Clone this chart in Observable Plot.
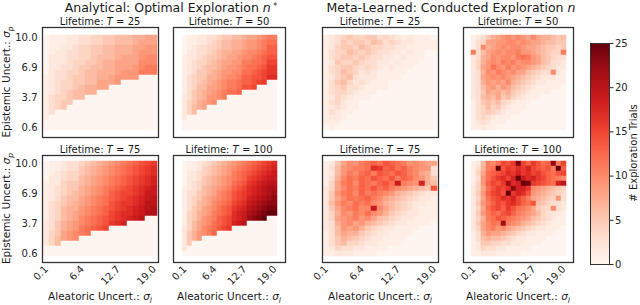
<!DOCTYPE html>
<html><head><meta charset="utf-8">
<script src="https://cdn.jsdelivr.net/npm/d3@7"></script>
<script src="https://cdn.jsdelivr.net/npm/@observablehq/plot@0.6"></script>
<style>
html,body{margin:0;padding:0;background:#fff;}
#root{position:relative;width:640px;height:305px;overflow:hidden;font-family:"DejaVu Sans",sans-serif;}
#root > svg{position:absolute;}
</style></head><body><div id="root"></div>
<script>
// Grid values (19 x 19): aleatoric sigma_l along x, epistemic sigma_p along y
const sigmaL = [0.1, 1.15, 2.2, 3.25, 4.3, 5.35, 6.4, 7.45, 8.5, 9.55, 10.6, 11.65, 12.7, 13.75, 14.8, 15.85, 16.9, 17.95, 19.0];
const sigmaP = [0.6, 1.122, 1.644, 2.167, 2.689, 3.211, 3.733, 4.256, 4.778, 5.3, 5.822, 6.344, 6.867, 7.389, 7.911, 8.433, 8.956, 9.478, 10.0];
const xTickValues = [0.1, 6.4, 12.7, 19.0];
const yTickValues = [0.6, 3.733, 6.867, 10.0];
const lifetimes = [25, 50, 75, 100];
const colorTicks = [0, 5, 10, 15, 20, 25];

// Cell values, one string per row (top row = sigma_p 10.0), one base-36 digit per cell (0..25)
const optimalT25 = [
"0111223344556667788",
"0111223344556667888",
"0112234455667778899",
"0122334455667778999",
"02223344566678889aa",
"0222344556778888aaa",
"0223345566778889abb",
"0233445667778999bbb",
"1233455667789999000",
"1234455668889000000",
"1234456778800000000",
"1234566770000000000",
"1344566000000000000",
"1345500000000000000",
"1345000000000000000",
"1300000000000000000",
"1000000000000000000",
"0000000000000000000",
"0000000000000000000"];
const optimalT50 = [
"0112233455667889abb",
"011223456677899abcc",
"012334456677899abdd",
"0223345677889aabcdd",
"122345567889aabcdee",
"123445678899bbccdff",
"12345667899abccdegg",
"1235567899aaccdefgg",
"134557789aabddeefhh",
"13456789abbcddefg00",
"13466889abbceef0000",
"1356789abccd0000000",
"2356799ab0000000000",
"245789a000000000000",
"2467800000000000000",
"2460000000000000000",
"2000000000000000000",
"0000000000000000000",
"0000000000000000000"];
const optimalT75 = [
"011233456789abcdefg",
"01123356789abcdefgh",
"01234456789abcdefgh",
"0223446789abcdefghi",
"1224556789abcdefghi",
"123455789abcdefghij",
"123456789abdeffghjj",
"12356689abcdefghijk",
"13456789abcefgghikk",
"1346779abcdefghijkl",
"1346789abcdfghhijll",
"134678abcdefghijk00",
"235789abcdeghi00000",
"235789bcdef00000000",
"24589abc00000000000",
"24689a0000000000000",
"2460000000000000000",
"0000000000000000000",
"0000000000000000000"];
const optimalT100 = [
"01123456789abcdefgh",
"0112456789abcdefghi",
"0223456789bcdefghij",
"022356789abcdfghijj",
"023456789acdeghijkk",
"12346789abdefhijkll",
"1335678abcefghijklm",
"1345789abcefgijklmn",
"134678abcdfghjklmnn",
"135689acdeghiklmnoo",
"145789bcdehijlmnopp",
"14579abdefhijmnop00",
"14689acdefijk000000",
"2468abcefg000000000",
"2579abd000000000000",
"2579000000000000000",
"2500000000000000000",
"2000000000000000000",
"0000000000000000000"];
const metaT25 = [
"1234544553432121110",
"1235455465343221111",
"1245546544332211111",
"1344654543322121100",
"1345545433221211100",
"1254454332212111000",
"1345543432121110000",
"1346542321111100000",
"1245632221111000000",
"1356423211100000000",
"1345332111100000000",
"1344321110000000000",
"1243211100000000000",
"1342110000000000000",
"1232110000000000000",
"1321100000000000000",
"1221000000000000000",
"1110000000000000000",
"0100000000000000000"];
const metaT50 = [
"1235789a9a98a877656",
"1348899aa9a98876655",
"13a789a9aa988765545",
"b3689a9aab99876544b",
"2378a9aa9bcb9865433",
"2479a9bab9aa9865332",
"2489ca9b9a987654322",
"237a9ba9a8865433a21",
"2389a9a987654322211",
"2379898a76543221111",
"2368979865432111110",
"2358786754321111000",
"2367685643211100000",
"1356564321110000000",
"1346453211100000000",
"1345432111000000000",
"1343211100000000000",
"1232111000000000000",
"1121100000000000000"];
const metaT75 = [
"1258a9bcdcedcb9a988",
"1369abbchgdecdba993",
"1269bacdbedcedba873",
"137acbdcedcebdca975",
"148bcadcbdecjba9i76",
"248acbdcecdba98765e",
"259bcadbcba97654322",
"258acbcdba876543221",
"269bacbca9765432211",
"258abcaaja865432111",
"247a9baca9754322111",
"2489ab9a86543221111",
"2379a89765432211110",
"2369897543221111000",
"1368775432211110000",
"1357654322111100000",
"1356443221111000000",
"1243322111100000000",
"1122211110000000000"];
const metaT100 = [
"126bacfegofdgecdnbf",
"137bcpegfhgifedebpd",
"148cdefhgighfgedcef",
"139ceghfipjhigfdcba",
"149dfegmhipogfedcik",
"248cegfhniiga987654",
"259dfgepgihe9876543",
"248cefhgifdb8765493",
"259bdfeghfdce654332",
"248cefdgecba8543a32",
"259bdcefdba98643221",
"247bcedcba986543211",
"258acbmba9765432111",
"248ab9a876543221110",
"1379887654322111100",
"1367665432211110000",
"1255443322111100000",
"1243322111110000000",
"1122211111000000000"];

function decode(rows) {
  const out = [];
  rows.forEach((row, r) => {
    const s = row.padEnd(19, "0").slice(0, 19);
    for (let c = 0; c < 19; c++) out.push({sl: sigmaL[c], sp: sigmaP[18 - r], v: parseInt(s[c], 36)});
  });
  return out;
}

const root = document.getElementById("root");
const FONT = "DejaVu Sans";
const colorOpts = {type: "linear", scheme: "reds", domain: [0, 25]};

function panel(rows, fx, fy, fw, fh, showX, showY) {
  const mL = 40, mR = 4, mT = 4, mB = 34;
  const svg = Plot.plot({
    width: fw + mL + mR, height: fh + mT + mB,
    marginLeft: mL, marginRight: mR, marginTop: mT, marginBottom: mB,
    style: {background: "none", fontFamily: FONT, fontSize: "10px", color: "#262626", overflow: "visible"},
    x: {type: "band", domain: sigmaL, padding: 0, ticks: xTickValues, tickFormat: d => d.toFixed(1),
        tickRotate: -45, tickSize: 0, tickPadding: 5, label: null, axis: showX ? "bottom" : null},
    y: {type: "band", domain: sigmaP.slice().reverse(), padding: 0, ticks: yTickValues, tickFormat: d => d.toFixed(1),
        tickSize: 0, tickPadding: 5, label: null, axis: showY ? "left" : null},
    color: colorOpts,
    marks: [
      Plot.cell(decode(rows), {x: "sl", y: "sp", fill: "v", stroke: "v", strokeWidth: 0.5, inset: 0}),
      Plot.frame({stroke: "#333", strokeWidth: 1.3})
    ]
  });
  svg.style.left = (fx - mL) + "px";
  svg.style.top = (fy - mT) + "px";
  root.appendChild(svg);
}

const colL = [42, 173, 322, 463];
const colW = [116, 112, 116, 110];
const rowT = [27, 155];
const rowH = [110, 107];

panel(optimalT25, colL[0], rowT[0], colW[0], rowH[0], false, true);
panel(optimalT50, colL[1], rowT[0], colW[1], rowH[0], false, false);
panel(optimalT75, colL[0], rowT[1], colW[0], rowH[1], true, true);
panel(optimalT100, colL[1], rowT[1], colW[1], rowH[1], true, false);
panel(metaT25, colL[2], rowT[0], colW[2], rowH[0], false, false);
panel(metaT50, colL[3], rowT[0], colW[3], rowH[0], false, false);
panel(metaT75, colL[2], rowT[1], colW[2], rowH[1], true, false);
panel(metaT100, colL[3], rowT[1], colW[3], rowH[1], true, false);

// colorbar
{
  const cx = 590, cy = 43, cw = 19, ch = 221;
  const mL = 2, mR = 26, mT = 2, mB = 2;
  const svg = Plot.plot({
    width: cw + mL + mR, height: ch + mT + mB,
    marginLeft: mL, marginRight: mR, marginTop: mT, marginBottom: mB,
    style: {background: "none", fontFamily: FONT, fontSize: "10px", color: "#262626", overflow: "visible"},
    x: {domain: [0, 1], axis: null},
    y: {domain: [0, 25], ticks: colorTicks, tickSize: 3.5, tickPadding: 2, axis: "right", label: null},
    color: colorOpts,
    marks: [
      Plot.raster({fill: (x, y) => y, x1: 0, x2: 1, y1: 0, y2: 25}),
      Plot.frame({stroke: "#333", strokeWidth: 1})
    ]
  });
  svg.style.left = (cx - mL) + "px";
  svg.style.top = (cy - mT) + "px";
  root.appendChild(svg);
}

// text overlay
const ov = d3.select(root).append("svg").attr("width", 640).attr("height", 305)
  .style("left", "0px").style("top", "0px").style("pointer-events", "none")
  .attr("font-family", FONT).attr("fill", "#1a1a1a");

function title(x, y, main, italic, sup) {
  const t = ov.append("text").attr("x", x).attr("y", y).attr("text-anchor", "middle").attr("font-size", 12.5);
  t.append("tspan").text(main);
  t.append("tspan").attr("font-style", "italic").text(italic);
  if (sup) t.append("tspan").attr("font-size", 8).attr("dy", -3.5).text(sup);
}
title(171, 12, "Analytical: Optimal Exploration ", "n", " *");
title(451, 12, "Meta-Learned: Conducted Exploration ", "n", null);

const panelPos = [[0, 0], [1, 0], [0, 1], [1, 1], [2, 0], [3, 0], [2, 1], [3, 1]];
const panelLife = [0, 1, 2, 3, 0, 1, 2, 3];
panelPos.forEach(([c, r], k) => {
  const x = colL[c] + colW[c] / 2, y = rowT[r] - 2.5;
  const t = ov.append("text").attr("x", x).attr("y", y).attr("text-anchor", "middle").attr("font-size", 10);
  t.append("tspan").text("Lifetime: ");
  t.append("tspan").attr("font-style", "italic").text("T");
  t.append("tspan").text(" = " + lifetimes[panelLife[k]]);
});

function sublabel(g, main, sym, sub) {
  g.append("tspan").text(main);
  g.append("tspan").attr("font-style", "italic").text(sym);
  g.append("tspan").attr("font-style", "italic").attr("font-size", 7.5).attr("dy", 2.5).text(sub);
}
[0, 1].forEach(r => {
  const cy = rowT[r] + rowH[r] / 2;
  const t = ov.append("text").attr("transform", `translate(10,${cy}) rotate(-90)`).attr("text-anchor", "middle").attr("font-size", 10.5);
  sublabel(t, "Epistemic Uncert.: ", "σ", "p");
});
[0, 1, 2, 3].forEach(c => {
  const t = ov.append("text").attr("x", colL[c] + colW[c] / 2).attr("y", 300).attr("text-anchor", "middle").attr("font-size", 10.5);
  sublabel(t, "Aleatoric Uncert.: ", "σ", "l");
});
ov.append("text").attr("transform", "translate(637,153) rotate(-90)").attr("text-anchor", "middle")
  .attr("font-size", 10).text("# Exploration Trials");
</script></body></html>
